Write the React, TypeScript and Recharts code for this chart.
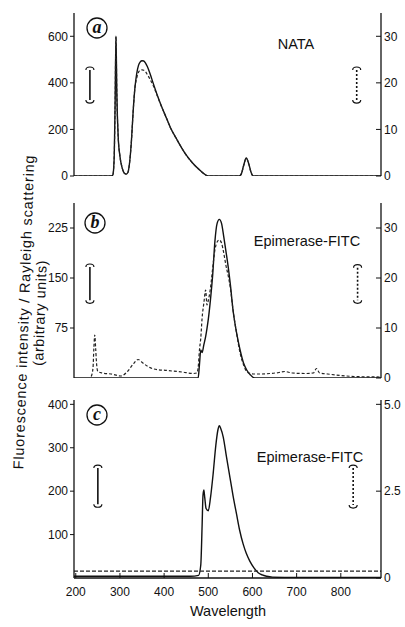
import { LineChart, Line, XAxis, YAxis, ReferenceLine } from 'recharts';

const FONT = '"Liberation Sans", Arial, Helvetica, sans-serif';
const X_DOMAIN: [number, number] = [196, 891];
const xTicks = [200, 300, 400, 500, 600, 700, 800];

// (a) NATA — fluorescence on left axis, Rayleigh scattering on right axis
const wavelengthsA = [196, 280, 284, 287, 289, 291, 293, 296, 300, 305, 310, 314, 318, 322, 326, 330, 334, 338, 342, 346, 350, 354, 358, 362, 368, 375, 385, 395, 405, 415, 428, 440, 452, 465, 478, 490, 500, 570, 575, 580, 586, 592, 597, 602, 891];
const fluorA = [0, 0, 5, 80, 300, 600, 350, 170, 85, 35, 12, 8, 15, 60, 150, 280, 380, 440, 475, 490, 495, 494, 485, 470, 440, 400, 345, 295, 250, 205, 160, 120, 85, 55, 30, 10, 0, 0, 10, 45, 77, 50, 15, 0, 0];
const scatterA = [0, 0, 0.25, 4, 15, 30, 17.5, 8.5, 4.25, 1.75, 0.6, 0.4, 0.75, 3, 7.5, 14, 19, 21, 22.3, 22.7, 22.8, 22.7, 22.4, 21.8, 20.8, 19.5, 17.1, 14.7, 12.5, 10.2, 8, 6, 4.2, 2.7, 1.5, 0.5, 0, 0, 0.5, 2.2, 3.8, 2.5, 0.7, 0, 0];

// (b) Epimerase-FITC
const wavelengthsB = [196, 235, 239, 241, 243, 245, 247, 250, 260, 280, 302, 317, 330, 341, 352, 365, 377, 407, 440, 467, 474, 477, 480, 483, 486, 490, 494, 497, 500, 505, 510, 515, 520, 525, 530, 535, 540, 545, 550, 556, 564, 572, 580, 587, 595, 605, 620, 640, 660, 673, 690, 720, 738, 745, 752, 770, 800, 830, 891];
const fluorB = [0, 0, 0, 0, 0, 0, 0, 0, 0, 0, 0, 0, 0, 0, 0, 0, 0, 0, 0, 0, 0, 0, 20, 42, 38, 50, 62, 74, 88, 118, 155, 205, 232, 238, 232, 212, 190, 167, 140, 102, 68, 42, 22, 12, 5, 0, 0, 0, 0, 0, 0, 0, 0, 0, 0, 0, 0, 0, 0];
const scatterB = [null, 0.3, 2, 6, 8.6, 6, 3, 1.3, 1.0, 0.8, 0.4, 1.3, 2.8, 3.7, 3.0, 2.2, 1.8, 1.5, 1.2, 0.9, 1.0, 2, 5.6, 8, 12, 15, 17.6, 14.6, 15.5, 18, 22, 25.6, 27.2, 27.6, 27, 25, 22.5, 20.5, 18, 13.6, 9, 5, 2.6, 1.3, 0.9, 0.8, 0.8, 0.9, 1.1, 1.3, 1.0, 0.9, 1.0, 1.9, 1.0, 0.8, 0.5, 0.3, 0.2];

// (c) Epimerase-FITC
const wavelengthsC = [196, 300, 400, 460, 478, 483, 486, 488, 490, 492, 495, 500, 505, 511, 517, 522, 525, 528, 534, 541, 549, 556, 564, 571, 579, 586, 594, 603, 613, 622, 632, 645, 700, 800, 891];
const fluorC = [4, 4, 4, 4, 6, 30, 120, 190, 203, 185, 160, 155, 185, 240, 305, 342, 351, 345, 324, 280, 232, 190, 147, 110, 78, 57, 39, 24, 12, 7, 4, 2, 1, 1, 1];
const scatterC = [0.2, 0.2, 0.2, 0.2, 0.2, 0.2, 0.2, 0.2, 0.2, 0.2, 0.2, 0.2, 0.2, 0.2, 0.2, 0.2, 0.2, 0.2, 0.2, 0.2, 0.2, 0.2, 0.2, 0.2, 0.2, 0.2, 0.2, 0.2, 0.2, 0.2, 0.2, 0.2, 0.2, 0.2, 0.2];

const rows = (w: number[], fl: (number | null)[], sc: (number | null)[]) =>
  w.map((x, i) => ({ w: x, fl: fl[i], sc: sc[i] }));

// axis key: a vertical stroke closed by two rounded caps
const bracket = (dash?: string) => (p: any) => {
  const x = p.x1;
  const top = Math.min(p.y1, p.y2);
  const bot = Math.max(p.y1, p.y2);
  return (
    <g fill="none" stroke="#111" strokeWidth={1.2}>
      <path d={`M${x - 4},${top + 3} Q${x - 4},${top} ${x},${top} Q${x + 4},${top} ${x + 4},${top + 3}`} />
      <line x1={x} y1={top + 3} x2={x} y2={bot - 3} strokeDasharray={dash} strokeWidth={1.6} />
      <path d={`M${x - 4},${bot - 3} Q${x - 4},${bot} ${x},${bot} Q${x + 4},${bot} ${x + 4},${bot - 3}`} />
    </g>
  );
};

interface BracketPos { x: number; y1: number; y2: number; dash?: string }

interface PanelProps {
  data: { w: number; fl: number | null; sc: number | null }[];
  top: number;
  height: number;
  marginTop: number;
  marginBottom: number;
  leftDomain: [number, number];
  leftTicks: number[];
  rightDomain: [number, number];
  rightTicks: number[];
  rightFmt?: (v: number) => string;
  showX?: boolean;
  brackets: BracketPos[];
  scatterDash?: string;
}

const tickStyle = { fontSize: 12, fill: '#111', fontFamily: FONT };

function Panel(p: PanelProps) {
  return (
    <div style={{ position: 'absolute', left: 0, top: p.top }}>
      <LineChart
        width={405}
        height={p.height}
        data={p.data}
        margin={{ top: p.marginTop, right: 0, bottom: p.marginBottom, left: 34 }}
      >
        <XAxis
          dataKey="w"
          type="number"
          domain={X_DOMAIN}
          allowDataOverflow
          ticks={xTicks}
          interval={0}
          height={p.showX ? 30 : 0}
          tick={p.showX ? tickStyle : false}
          tickLine={p.showX ? { stroke: '#111' } : false}
          tickSize={-5}
          tickMargin={14}
          axisLine={{ stroke: '#111', strokeWidth: 1.3 }}
        />
        <XAxis
          xAxisId="top"
          orientation="top"
          dataKey="w"
          type="number"
          domain={X_DOMAIN}
          allowDataOverflow
          height={0}
          tick={false}
          tickLine={false}
          axisLine={{ stroke: '#111', strokeWidth: 1.3 }}
        />
        <YAxis
          yAxisId="left"
          domain={p.leftDomain}
          ticks={p.leftTicks}
          interval={0}
          allowDataOverflow
          width={40}
          tick={tickStyle}
          tickSize={4}
          tickMargin={2}
          tickLine={{ stroke: '#111' }}
          axisLine={{ stroke: '#111', strokeWidth: 1.3 }}
        />
        <YAxis
          yAxisId="right"
          orientation="right"
          domain={p.rightDomain}
          ticks={p.rightTicks}
          interval={0}
          allowDataOverflow
          width={24}
          tick={tickStyle}
          tickFormatter={p.rightFmt}
          tickSize={-5}
          tickMargin={8}
          tickLine={{ stroke: '#111' }}
          axisLine={{ stroke: '#111', strokeWidth: 1.3 }}
        />
        <Line
          yAxisId="left"
          dataKey="fl"
          type="monotone"
          stroke="#111"
          strokeWidth={1.4}
          dot={false}
          isAnimationActive={false}
        />
        <Line
          yAxisId="right"
          dataKey="sc"
          type="monotone"
          stroke="#222"
          strokeWidth={1.2}
          strokeDasharray={p.scatterDash || '3 2'}
          dot={false}
          isAnimationActive={false}
        />
        {p.brackets.map((b, i) => (
          <ReferenceLine
            key={i}
            yAxisId="left"
            segment={[{ x: b.x, y: b.y1 }, { x: b.x, y: b.y2 }]}
            shape={bracket(b.dash)}
          />
        ))}
      </LineChart>
    </div>
  );
}

function Letter({ x, y, c }: { x: number; y: number; c: string }) {
  return (
    <g>
      <circle cx={x} cy={y} r={10} fill="#fff" stroke="#111" strokeWidth={1.3} />
      <text
        x={x}
        y={y + 1}
        textAnchor="middle"
        dominantBaseline="middle"
        fontFamily='"Liberation Serif", "Times New Roman", serif'
        fontStyle="italic"
        fontWeight="bold"
        fontSize={18}
        fill="#111"
      >
        {c}
      </text>
    </g>
  );
}

export default function App() {
  return (
    <div style={{ position: 'absolute', left: 0, top: 0, width: 405, height: 627, background: '#fff', fontFamily: FONT }}>
      <Panel
        data={rows(wavelengthsA, fluorA, scatterA)}
        top={0}
        height={185}
        marginTop={13}
        marginBottom={9}
        leftDomain={[0, 700]}
        leftTicks={[0, 200, 400, 600]}
        rightDomain={[0, 35]}
        rightTicks={[0, 10, 20, 30]}
        brackets={[
          { x: 232, y1: 468, y2: 313 },
          { x: 836, y1: 468, y2: 313, dash: '2 2' },
        ]}
      />
      <Panel
        data={rows(wavelengthsB, fluorB, scatterB)}
        top={190}
        height={195}
        marginTop={13}
        marginBottom={7}
        leftDomain={[0, 262.5]}
        leftTicks={[75, 150, 225]}
        rightDomain={[0, 35]}
        rightTicks={[0, 10, 20, 30]}
        brackets={[
          { x: 232, y1: 171, y2: 112 },
          { x: 838, y1: 170, y2: 112, dash: '2 2' },
        ]}
      />
      <Panel
        data={rows(wavelengthsC, fluorC, scatterC)}
        top={390}
        height={237}
        marginTop={10}
        marginBottom={19}
        leftDomain={[0, 410]}
        leftTicks={[100, 200, 300, 400]}
        rightDomain={[0, 5.125]}
        rightTicks={[0, 2.5, 5]}
        rightFmt={(v: number) => (v === 0 ? '0' : v.toFixed(1))}
        showX
        scatterDash="4 2"
        brackets={[
          { x: 250, y1: 260, y2: 163 },
          { x: 828, y1: 260, y2: 161, dash: '2 2' },
        ]}
      />
      <svg width={405} height={627} style={{ position: 'absolute', left: 0, top: 0, pointerEvents: 'none' }}>
        <Letter x={97} y={28} c="a" />
        <Letter x={95} y={223} c="b" />
        <Letter x={97} y={415} c="c" />
        <g fontFamily={FONT} fontSize={14.5} fill="#111" textAnchor="middle" dominantBaseline="middle">
          <text x={296} y={45}>NATA</text>
          <text x={307} y={242}>Epimerase-FITC</text>
          <text x={310} y={458}>Epimerase-FITC</text>
          <text x={228} y={612}>Wavelength</text>
          <text transform="translate(25,312) rotate(-88)" letterSpacing={0.8}>Fluorescence intensity / Rayleigh scattering</text>
          <text transform="translate(41,313) rotate(-88)" letterSpacing={0.5}>(arbitrary units)</text>
        </g>
      </svg>
    </div>
  );
}
